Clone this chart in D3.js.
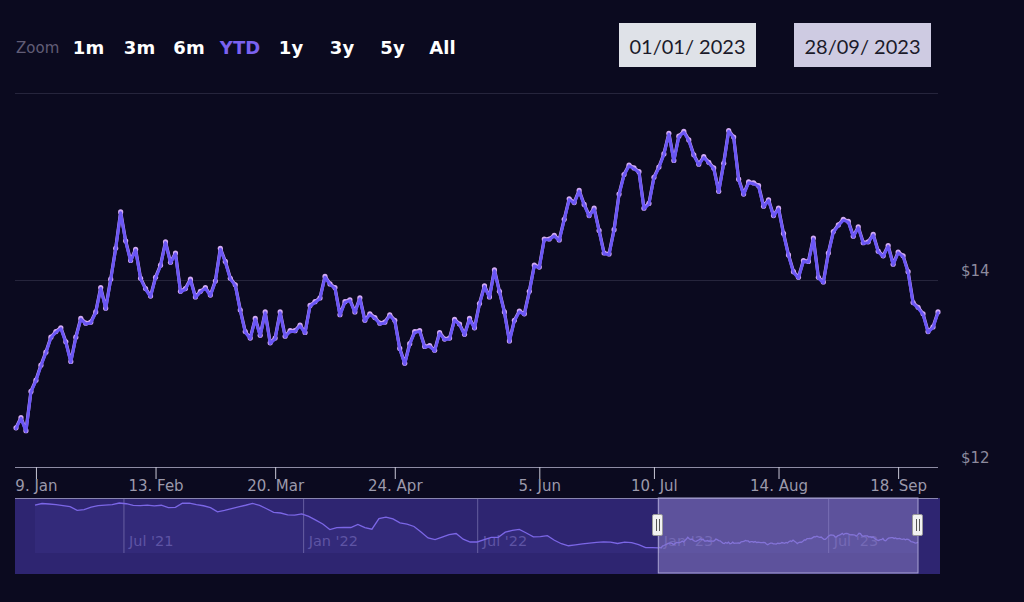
<!DOCTYPE html>
<html><head><meta charset="utf-8">
<script src="https://cdn.jsdelivr.net/npm/d3@7"></script>
<style>
html,body{margin:0;padding:0;background:#0b0a1f;}
svg{display:block;}
</style></head><body>
<svg id="c" width="1024" height="602"></svg>
<script>
// ---- data ----
const startDate = "2023-01-03";
const endDate = "2023-09-28";
const holidays = ["2023-01-16","2023-02-20","2023-04-07","2023-05-29","2023-06-19","2023-07-04","2023-09-04"];
const prices = [
 12.41,12.52,12.38,12.80,12.92,13.08,13.22,13.38,13.44,13.48,
 13.33,13.12,13.38,13.58,13.53,13.54,13.65,13.91,13.69,14.00,
 14.33,14.72,14.41,14.20,14.32,14.01,13.90,13.82,14.02,14.15,
 14.40,14.18,14.28,13.87,13.90,14.00,13.81,13.87,13.91,13.83,
 13.98,14.33,14.19,14.01,13.94,13.67,13.44,13.37,13.58,13.40,
 13.65,13.32,13.37,13.65,13.39,13.45,13.45,13.51,13.43,13.72,
 13.76,13.80,14.03,13.95,13.91,13.62,13.76,13.78,13.65,13.80,
 13.56,13.63,13.59,13.53,13.54,13.62,13.56,13.26,13.10,13.31,
 13.44,13.45,13.28,13.29,13.24,13.43,13.36,13.37,13.57,13.52,
 13.41,13.58,13.48,13.74,13.93,13.81,14.10,13.87,13.65,13.34,
 13.56,13.66,13.63,13.87,14.15,14.13,14.43,14.43,14.47,14.42,
 14.64,14.86,14.82,14.95,14.80,14.68,14.76,14.52,14.28,14.27,
 14.53,14.91,15.12,15.22,15.19,15.15,14.76,14.81,15.09,15.20,
 15.34,15.56,15.27,15.53,15.58,15.49,15.33,15.23,15.31,15.25,
 15.19,14.94,15.24,15.59,15.52,15.07,14.91,15.04,15.03,15.00,
 14.78,14.85,14.68,14.76,14.49,14.26,14.08,14.02,14.20,14.19,
 14.44,14.02,13.97,14.28,14.51,14.58,14.64,14.62,14.46,14.56,
 14.39,14.40,14.48,14.30,14.25,14.36,14.16,14.29,14.25,14.08,
 13.75,13.70,13.63,13.44,13.49,13.65
];
const xTickDates = ["2023-01-09","2023-02-13","2023-03-20","2023-04-24","2023-06-05","2023-07-10","2023-08-14","2023-09-18"];
const xTickLabels = ["9. Jan","13. Feb","20. Mar","24. Apr","5. Jun","10. Jul","14. Aug","18. Sep"];
const yTicks = [12, 14, 16];
const yTickLabels = ["$12", "$14", ""];
const zoomLabel = "Zoom";
const zoomButtons = ["1m","3m","6m","YTD","1y","3y","5y","All"];
const activeButton = "YTD";
const rangeInputs = ["01/01/ 2023", "28/09/ 2023"];
// navigator history (weekly samples, Apr 2021 - Dec 2022)
const navHistory = [
 21.73,22.07,21.96,21.82,21.62,21.40,20.58,20.73,21.29,21.60,
 21.71,21.84,22.18,22.02,21.67,21.60,21.71,21.56,21.69,21.16,
 21.22,22.13,22.16,21.84,21.58,21.18,20.27,20.56,20.96,21.36,
 21.69,22.09,21.67,20.93,20.13,20.00,19.60,19.53,19.82,19.27,
 18.44,17.60,16.40,16.82,16.89,16.84,17.53,16.82,16.47,18.80,
 19.11,18.73,17.87,17.58,17.07,15.84,14.56,14.22,14.76,15.29,
 15.53,14.29,13.69,13.69,14.18,14.69,14.69,15.82,16.22,16.42,
 15.64,14.82,14.84,15.07,14.07,13.31,12.87,13.07,13.27,13.44,
 13.60,13.73,13.67,13.36,13.67,13.56,13.11,12.47,12.44
];
const navHistoryStep = 5;       // trading days between history samples
const navTickLabels = ["Jul '21","Jan '22","Jul '22","Jan '23","Jul '23"];
const navTickIdx = [-381, -253, -129, 0, 121];

// ---- trading-day categories ----
function tradingDays(s, e, hol) {
  const out = [], hs = new Set(hol);
  const end = new Date(e + "T00:00:00Z");
  for (let d = new Date(s + "T00:00:00Z"); d <= end; d.setUTCDate(d.getUTCDate() + 1)) {
    const wd = d.getUTCDay(), iso = d.toISOString().slice(0, 10);
    if (wd !== 0 && wd !== 6 && !hs.has(iso)) out.push(iso);
  }
  return out;
}
const dates = tradingDays(startDate, endDate, holidays);
const n = prices.length;

const svg = d3.select("#c");
svg.append("rect").attr("width", 1024).attr("height", 602).attr("fill", "#0b0a1f");

// ---- scales ----
const x = d3.scaleLinear().domain([0, n - 1]).range([16, 938]);
const y = d3.scaleLinear().domain([12, 16]).range([467, 93]);

// gridlines
svg.append("g").selectAll("line").data(yTicks.slice(1)).join("line")
  .attr("x1", 15).attr("x2", 938)
  .attr("y1", d => Math.round(y(d)) + 0.5).attr("y2", d => Math.round(y(d)) + 0.5)
  .attr("stroke", "#26253c").attr("stroke-width", 1);

// y axis (right)
const yAxis = d3.axisRight(y).tickValues(yTicks).tickSize(0)
  .tickFormat((d, i) => yTickLabels[i]);
const gy = svg.append("g").attr("transform", "translate(961,0)").call(yAxis);
gy.select(".domain").remove();
gy.selectAll("text").attr("x", 0).attr("dy", "-0.27em")
  .attr("fill", "#8d8a9e").attr("font-family", "DejaVu Sans").attr("font-size", 15)
  .attr("text-anchor", "start");

// x axis
const tickIdx = xTickDates.map(d => dates.indexOf(d));
const xAxis = d3.axisBottom(x).tickValues(tickIdx).tickSizeInner(12).tickSizeOuter(0).tickPadding(1)
  .tickFormat((d, i) => xTickLabels[i]);
const gx = svg.append("g").attr("transform", "translate(0,467)").call(xAxis);
gx.select(".domain").attr("d", "M15,0.5H938").attr("stroke", "#8e8ca4");
gx.selectAll(".tick line").attr("stroke", "#c9c8d6");
gx.selectAll(".tick text").attr("fill", "#9b99ab").attr("font-family", "DejaVu Sans").attr("font-size", 15);

// main line + markers
const line = d3.line().x((d, i) => x(i)).y(d => y(d)).curve(d3.curveLinear);
svg.append("path").datum(prices).attr("d", line)
  .attr("fill", "none").attr("stroke", "#c9a4f2").attr("stroke-width", 3.2)
  .attr("transform", "translate(0,-1)").attr("stroke-linejoin", "round");
svg.append("g").selectAll("circle").data(prices).join("circle")
  .attr("cx", (d, i) => x(i)).attr("cy", d => y(d) - 0.8).attr("r", 2.6)
  .attr("fill", "#d2aaf4");
svg.append("path").datum(prices).attr("d", line)
  .attr("fill", "none").attr("stroke", "#6a56f4").attr("stroke-width", 3)
  .attr("stroke-linejoin", "round").attr("stroke-linecap", "round");

// ---- navigator ----
const navTop = 498, navBottom = 574, navSeriesBottom = 553;
const navData = navHistory.map((v, k) => ({ i: -navHistoryStep * (navHistory.length - k) + (navHistoryStep - 4), v }))
  .concat(prices.map((v, i) => ({ i, v })));
const nx = d3.scaleLinear().domain([navData[0].i, n - 1]).range([35, 918]);
const ny = d3.scaleLinear().domain(d3.extent(navData, d => d.v)).range([548, 503]);

svg.append("rect").attr("x", 15).attr("y", navTop).attr("width", 925).attr("height", navBottom - navTop)
  .attr("fill", "#2e2571");
// area under navigator series
svg.append("path").datum(navData)
  .attr("d", d3.area().x(d => nx(d.i)).y0(navSeriesBottom).y1(d => ny(d.v)))
  .attr("fill", "#332a7a");
// nav grid + labels
const navAxis = d3.axisBottom(nx).tickValues(navTickIdx).tickSize(navSeriesBottom - navTop).tickFormat((d, i) => navTickLabels[i]);
const gn = svg.append("g").attr("transform", `translate(0,${navTop})`).call(navAxis);
gn.select(".domain").remove();
gn.selectAll(".tick line").attr("stroke", "#7d76b4").attr("stroke-opacity", 0.7);
gn.selectAll(".tick text").attr("y", 48).attr("dy", 0).attr("x", 5).attr("text-anchor", "start")
  .attr("fill", "#5e54a4").attr("font-family", "DejaVu Sans").attr("font-size", 14.5);
// nav line
svg.append("path").datum(navData)
  .attr("d", d3.line().x(d => nx(d.i)).y(d => ny(d.v)))
  .attr("fill", "none").attr("stroke", "#7b66e6").attr("stroke-width", 1.3);
// top outline
svg.append("line").attr("x1", 15).attr("x2", 938).attr("y1", navTop + 0.5).attr("y2", navTop + 0.5)
  .attr("stroke", "#8a86b0").attr("stroke-width", 1);
// selected range mask
const selX0 = nx(0), selX1 = nx(n - 1);
svg.append("rect").attr("x", selX0).attr("y", navTop).attr("width", selX1 - selX0).attr("height", navBottom - navTop - 1)
  .attr("fill", "#8c80c8").attr("fill-opacity", 0.5).attr("stroke", "#aaa4d4").attr("stroke-width", 1);
// handles
[selX0, selX1].forEach(hx => {
  const g = svg.append("g").attr("transform", `translate(${Math.round(hx)},0)`);
  g.append("rect").attr("x", -5.5).attr("y", 514.5).attr("width", 10).attr("height", 21).attr("rx", 1.5)
    .attr("fill", "#f2f2f2").attr("stroke", "#9a9a9a").attr("stroke-width", 1);
  g.append("line").attr("x1", -1.5).attr("x2", -1.5).attr("y1", 519).attr("y2", 531).attr("stroke", "#555").attr("stroke-width", 1);
  g.append("line").attr("x1", 1.5).attr("x2", 1.5).attr("y1", 519).attr("y2", 531).attr("stroke", "#555").attr("stroke-width", 1);
});

// ---- range selector ----
svg.append("text").attr("x", 16).attr("y", 53).text(zoomLabel)
  .attr("fill", "#615d76").attr("font-family", "DejaVu Sans").attr("font-size", 15);
const btnCenters = [88.5, 139.5, 189, 240, 291, 342, 392.5, 442.5];
svg.append("g").selectAll("text").data(zoomButtons).join("text")
  .attr("x", (d, i) => btnCenters[i]).attr("y", 53.5).attr("text-anchor", "middle")
  .text(d => d)
  .attr("fill", d => d === activeButton ? "#7a62f0" : "#ffffff")
  .attr("font-family", "DejaVu Sans").attr("font-weight", "bold").attr("font-size", 18);

const boxes = [{ x: 619, w: 137, fill: "#dfe2e8" }, { x: 794, w: 137, fill: "#cecbe2" }];
boxes.forEach((b, i) => {
  svg.append("rect").attr("x", b.x).attr("y", 23).attr("width", b.w).attr("height", 44).attr("fill", b.fill);
  svg.append("text").attr("x", b.x + b.w / 2).attr("y", 53.5).attr("text-anchor", "middle")
    .text(rangeInputs[i]).attr("fill", "#1b1a2a").attr("font-family", "Lato").attr("font-size", 20);
});
</script>
</body></html>
